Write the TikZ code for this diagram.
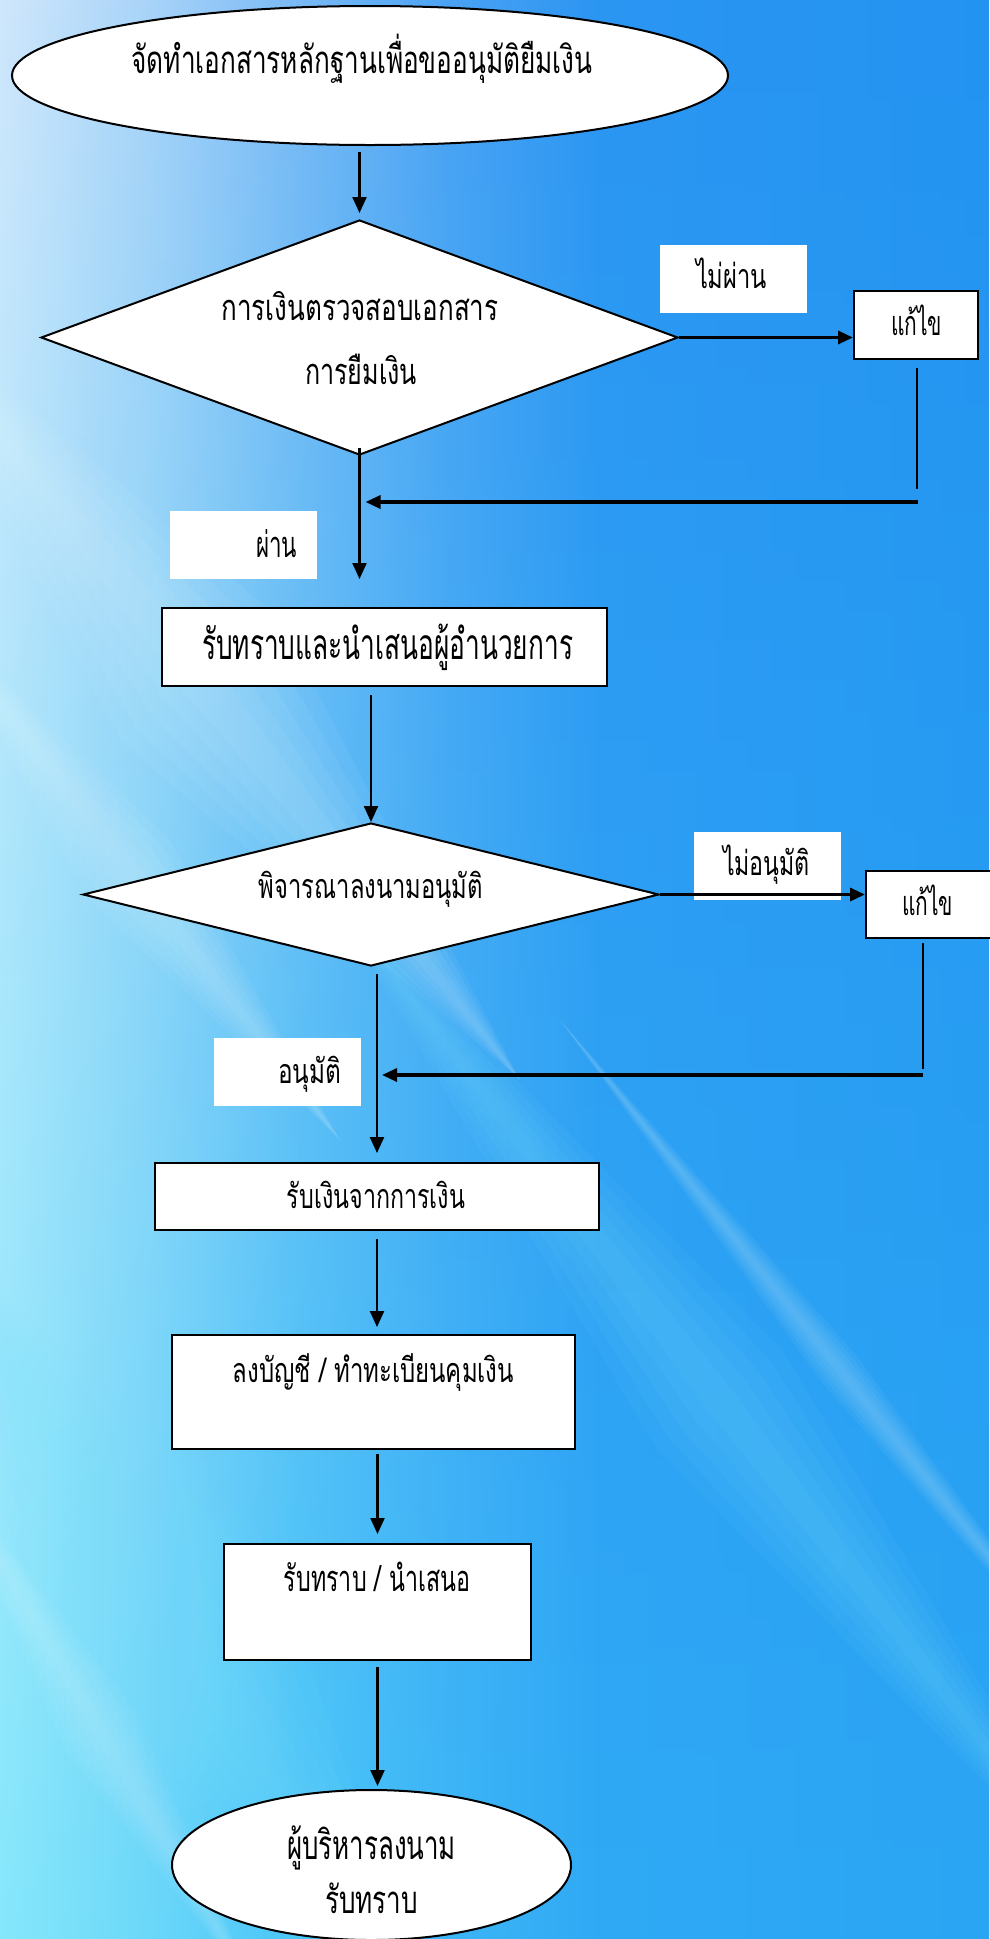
\documentclass[tikz,border=0pt]{standalone}
\usepackage{fontspec}
\usepackage{graphicx}
\newfontfamily\thaifont[Script=Thai]{Loma}
\usetikzlibrary{shapes.geometric,arrows.meta,fadings,calc}
\tikzfading[name=fadedown, top color=transparent!100, bottom color=transparent!0]
\definecolor{ta}{HTML}{CFE6FB}\definecolor{tb}{HTML}{A8D3F8}\definecolor{tc}{HTML}{78B9F5}
\definecolor{td}{HTML}{4AA2F3}\definecolor{te}{HTML}{2B95F2}\definecolor{tf}{HTML}{2393F1}
\definecolor{ba}{HTML}{86E8FB}\definecolor{bb}{HTML}{6BD8FA}\definecolor{bc}{HTML}{48C6F8}
\definecolor{bd}{HTML}{3CB6F7}\definecolor{be}{HTML}{30AAF5}\definecolor{bf}{HTML}{2BA6F4}
\definecolor{streak}{HTML}{E4FBFF}
\definecolor{streakc}{HTML}{7FE4FF}
\newcommand\thratio{0.47}
\newcommand\tx[3]{{\thaifont\fontsize{\fpeval{#1/\thratio}pt}{\fpeval{1.2*#1/\thratio}pt}\selectfont\resizebox{#2pt}{\height}{#3}}}
% soft tapered diagonal band: colour, opacity per layer, x1,y1,x2,y2, half width
\newcommand\band[7]{%
  \foreach \f in {1,0.8,0.6,0.4,0.2}{%
    \fill[#1, opacity=#2] (#3,#4) -- ($($(#3,#4)!0.5!(#5,#6)$)!\f*#7pt!90:(#5,#6)$) -- (#5,#6) -- ($($(#3,#4)!0.5!(#5,#6)$)!\f*#7pt!-90:(#5,#6)$) -- cycle;}}
\tikzset{
  boxst/.style={draw=black, fill=white, line width=2pt, rectangle, inner sep=0pt},
  lblst/.style={fill=white, rectangle, inner sep=0pt, minimum width=147pt, minimum height=68pt},
  diast/.style={draw=black, fill=white, line width=2pt, diamond, inner sep=0pt},
  ellst/.style={draw=black, fill=white, line width=2pt, ellipse, inner sep=0pt},
  txt/.style={anchor=base, inner sep=0pt, text=black},
  conn/.style={line width=2.2pt},
  arr/.style={line width=2.2pt, -{Triangle[length=16pt,width=14pt]}},
  harr/.style={line width=3.2pt, -{Triangle[length=15pt,width=13pt]}},
}
\begin{document}
\begin{tikzpicture}[x=1pt,y=-1pt]
\useasboundingbox (0,0) rectangle (989,1939);
% ---------- background ----------
\shade[left color=ta, right color=tb] (0,0) rectangle (150,1939);
\shade[left color=tb, right color=tc] (150,0) rectangle (300,1939);
\shade[left color=tc, right color=td] (300,0) rectangle (450,1939);
\shade[left color=td, right color=te] (450,0) rectangle (600,1939);
\shade[left color=te, right color=tf] (600,0) rectangle (989,1939);
\shade[left color=ba, right color=bb, path fading=fadedown] (0,0) rectangle (150,1939);
\shade[left color=bb, right color=bc, path fading=fadedown] (150,0) rectangle (300,1939);
\shade[left color=bc, right color=bd, path fading=fadedown] (300,0) rectangle (450,1939);
\shade[left color=bd, right color=be, path fading=fadedown] (450,0) rectangle (600,1939);
\shade[left color=be, right color=bf, path fading=fadedown] (600,0) rectangle (989,1939);
\band{streak}{0.06}{-120}{280}{520}{1080}{100}
\band{streak}{0.06}{-80}{600}{340}{1140}{50}
\band{streakc}{0.06}{320}{880}{1120}{1920}{80}
\band{streak}{0.05}{560}{1020}{1120}{1720}{22}
\band{streakc}{0.06}{-120}{1180}{440}{2020}{120}
\band{streak}{0.05}{-60}{1460}{260}{2000}{40}
% ---------- shapes ----------
\node[ellst, minimum width=716pt, minimum height=139pt] (e1) at (370,75.5) {};
\node[diast, minimum width=637pt, minimum height=235pt] (d1) at (359.5,337.5) {};
\node[lblst] (l1) at (733.5,279) {};
\node[boxst, minimum width=124pt, minimum height=68pt] (b1) at (916,325) {};
\node[lblst] (l2) at (243.5,545) {};
\node[boxst, minimum width=445pt, minimum height=78pt] (b2) at (384.5,647) {};
\node[diast, minimum width=576pt, minimum height=143pt] (d2) at (371,894.5) {};
\node[lblst] (l3) at (767.5,866) {};
\node[boxst, minimum width=134pt, minimum height=67pt] (b3) at (933,904.5) {};
\node[lblst] (l4) at (287.5,1072) {};
\node[boxst, minimum width=444pt, minimum height=67pt] (b4) at (377,1196.5) {};
\node[boxst, minimum width=403pt, minimum height=114pt] (b5) at (373.5,1392) {};
\node[boxst, minimum width=307pt, minimum height=116pt] (b6) at (377.5,1602) {};
\node[ellst, minimum width=399pt, minimum height=150pt] (e2) at (371.5,1865) {};
% ---------- texts ----------
\node[txt] (t1) at (362,73) {\tx{18}{461}{จัดทำเอกสารหลักฐานเพื่อขออนุมัติยืมเงิน}};
\node[txt] (t2a) at (360,320) {\tx{17}{277}{การเงินตรวจสอบเอกสาร}};
\node[txt] (t2b) at (361,384) {\tx{17}{112}{การยืมเงิน}};
\node[txt] (tl1) at (731.5,288) {\tx{16}{71}{ไม่ผ่าน}};
\node[txt] (tb1) at (916.5,335) {\tx{16}{51}{แก้ไข}};
\node[txt] (tl2) at (276.5,557) {\tx{17}{41}{ผ่าน}};
\node[txt] (tb2) at (387.5,659) {\tx{20}{371}{รับทราบและนำเสนอผู้อำนวยการ}};
\node[txt] (td2) at (371,898) {\tx{16}{224}{พิจารณาลงนามอนุมัติ}};
\node[txt] (tl3) at (766.5,875) {\tx{16}{87}{ไม่อนุมัติ}};
\node[txt] (tb3) at (927.5,915) {\tx{16}{51}{แก้ไข}};
\node[txt] (tl4) at (309.5,1083) {\tx{16}{63}{อนุมัติ}};
\node[txt] (tb4) at (376,1208) {\tx{16}{178}{รับเงินจากการเงิน}};
\node[txt] (tb5) at (373.5,1382) {\tx{16}{281}{ลงบัญชี / ทำทะเบียนคุมเงิน}};
\node[txt] (tb6) at (377,1591) {\tx{17}{186}{รับทราบ / นำเสนอ}};
\node[txt] (te2a) at (371.5,1859) {\tx{19}{169}{ผู้บริหารลงนาม}};
\node[txt] (te2b) at (371.5,1913) {\tx{18}{93}{รับทราบ}};
% ---------- connectors ----------
\coordinate (c1) at (917,489);
\coordinate (c2) at (918,502);
\coordinate (c4) at (923,1069);
\coordinate (c5) at (923,1075);
\draw[arr, shorten <=6pt, shorten >=6pt] (e1.south -| d1.north) -- (d1.north);
\draw[harr] (d1.east) -- (d1.east -| b1.west);
\draw[conn, shorten <=8pt] (b1.south -| c1) -- (c1);
\draw[harr, shorten >=6pt] (c2) -- (d1.south |- c2);
\draw[arr, shorten >=28pt] ([yshift=8pt]d1.south) -- (d1.south |- b2.north);
\draw[arr, shorten <=8pt] (b2.south -| d2.north) -- (d2.north);
\draw[harr] (d2.east) -- (d2.east -| b3.west);
\draw[conn, shorten <=4pt] (b3.south -| c4) -- (c4);
\draw[harr, shorten >=5pt] (c5) -- (b4.north |- c5);
\draw[arr, shorten <=7pt, shorten >=9pt] (b4.north |- d2.south) -- (b4.north);
\draw[arr, shorten <=8pt, shorten >=7pt] (b4.south) -- (b4.south |- b5.north);
\draw[arr, shorten <=4pt, shorten >=9pt] (b6.north |- b5.south) -- (b6.north);
\draw[arr, shorten <=6pt, shorten >=3pt] (b6.south) -- (b6.south |- e2.north);
\end{tikzpicture}
\end{document}
